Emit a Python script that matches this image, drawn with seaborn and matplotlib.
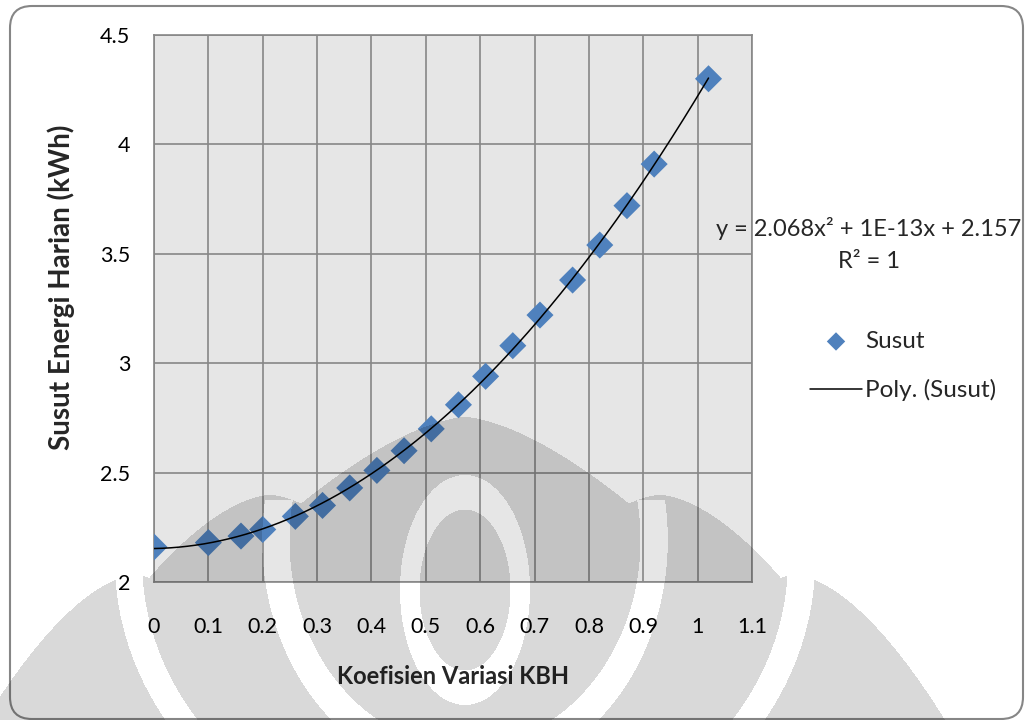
import numpy as np
import seaborn as sns
import matplotlib.pyplot as plt
from matplotlib.patches import FancyBboxPatch
from matplotlib.transforms import IdentityTransform

# nilai
koef_variasi = [0.0, 0.10, 0.16, 0.20, 0.26, 0.31, 0.36, 0.41, 0.46, 0.51,
                0.56, 0.61, 0.66, 0.71, 0.77, 0.82, 0.87, 0.92, 1.02]
susut = [2.16, 2.18, 2.21, 2.24, 2.30, 2.35, 2.43, 2.51, 2.60, 2.70,
         2.81, 2.94, 3.08, 3.22, 3.38, 3.54, 3.72, 3.91, 4.30]

x_ticks = [0, 0.1, 0.2, 0.3, 0.4, 0.5, 0.6, 0.7, 0.8, 0.9, 1.0, 1.1]
x_tick_labels = ['0', '0.1', '0.2', '0.3', '0.4', '0.5', '0.6', '0.7',
                 '0.8', '0.9', '1', '1.1']
y_ticks = [2, 2.5, 3, 3.5, 4, 4.5]
y_tick_labels = ['2', '2.5', '3', '3.5', '4', '4.5']

persamaan = 'y = 2.068x\u00b2 + 1E-13x + 2.157'
r_kuadrat = 'R\u00b2 = 1'

W, H = 1027, 720
GRID = '#878787'
BLUE = '#4f81bd'


def watermark(fig):
    """Rough gray logo laid over the whole picture (like the scanned page)."""
    yy, xx = np.mgrid[0:H, 0:W] + 0.5

    def ell(cx, cy, a, b):
        return np.sqrt(((xx - cx) / a) ** 2 + ((yy - cy) / b) ** 2)

    def tear(cx, ytip, a, p):
        t = np.clip((yy - ytip) / (H - ytip), 0, None)
        return (yy >= ytip) & (np.abs(xx - cx) <= a * t ** p)

    c = 465
    gray = tear(c, 417, 370, 0.65)
    gray |= tear(270, 495, 220, 0.6) | tear(660, 495, 220, 0.6)
    gray |= tear(135, 575, 150, 0.6) | tear(795, 575, 150, 0.6)
    # white bands
    for cy, a, b, lo, hi, ymin in [(590, 65, 115, 0.70, 1.00, 0),
                                   (540, 195, 230, 0.90, 1.04, 500),
                                   (560, 340, 300, 0.95, 1.03, 540)]:
        rr = ell(c, cy, a, b)
        gray &= ~((rr >= lo) & (rr <= hi) & (yy >= ymin))
    rgba = np.zeros((H, W, 4))
    rgba[..., 3] = gray * 0.15
    fig.figimage(rgba, 0, 0, origin='upper', zorder=10)


def main() -> None:
    sns.set_style('white')
    plt.rcParams['font.family'] = ['Lato', 'DejaVu Sans']

    fig = plt.figure(figsize=(W / 100, H / 100), dpi=100)

    # bingkai bulat
    frame = FancyBboxPatch((10, 1), 1013, 713,
                           boxstyle='round,pad=0,rounding_size=22',
                           transform=IdentityTransform(), fc='white',
                           ec='#868686', lw=1.5, zorder=-1)
    fig.add_artist(frame)

    ax = fig.add_axes([154 / W, 1 - 582 / H, (752 - 154) / W, (582 - 35) / H])
    ax.set_facecolor('#e6e6e6')

    sns.scatterplot(x=koef_variasi, y=susut, marker='D', s=190, color=BLUE,
                    edgecolor='none', linewidth=0, label='Susut', ax=ax,
                    zorder=3)

    # trendline polinomial orde 2
    coef = np.polyfit(koef_variasi, susut, 2)
    xs = np.linspace(min(koef_variasi), max(koef_variasi), 200)
    sns.lineplot(x=xs, y=np.polyval(coef, xs), color='black', lw=1.1,
                 label='Poly. (Susut)', ax=ax, zorder=4)

    ax.set_xlim(0, 1.1)
    ax.set_ylim(2, 4.5)
    ax.set_xticks(x_ticks)
    ax.set_xticklabels(x_tick_labels)
    ax.set_yticks(y_ticks)
    ax.set_yticklabels(y_tick_labels)
    ax.grid(True, color=GRID, lw=1.2)
    ax.set_axisbelow(True)
    for sp in ax.spines.values():
        sp.set_color(GRID)
        sp.set_linewidth(1.2)
    ax.tick_params(axis='both', length=0, labelsize=15.5, colors='black')
    ax.tick_params(axis='x', pad=25)
    ax.tick_params(axis='y', pad=17)

    fig.text(453 / W, 1 - 677 / H, 'Koefisien Variasi KBH', ha='center',
             va='center', fontsize=17, fontweight='bold')
    fig.text(61 / W, 1 - 287 / H, 'Susut Energi Harian (kWh)', ha='center',
             va='center', rotation=90, fontsize=20, fontweight='bold')

    fig.text(869 / W, 1 - 229 / H, persamaan, ha='center', va='center',
             fontsize=17)
    fig.text(869 / W, 1 - 262 / H, r_kuadrat, ha='center', va='center',
             fontsize=17)

    ax.legend(loc='center left', bbox_to_anchor=(810 / W, 1 - 366 / H),
              bbox_transform=fig.transFigure, frameon=False, fontsize=17.5,
              borderpad=0, borderaxespad=0, handlelength=2.14,
              handletextpad=0.12, labelspacing=1.12, markerscale=0.68)

    watermark(fig)
    fig.savefig('out.png', dpi=100)


if __name__ == '__main__':
    main()
